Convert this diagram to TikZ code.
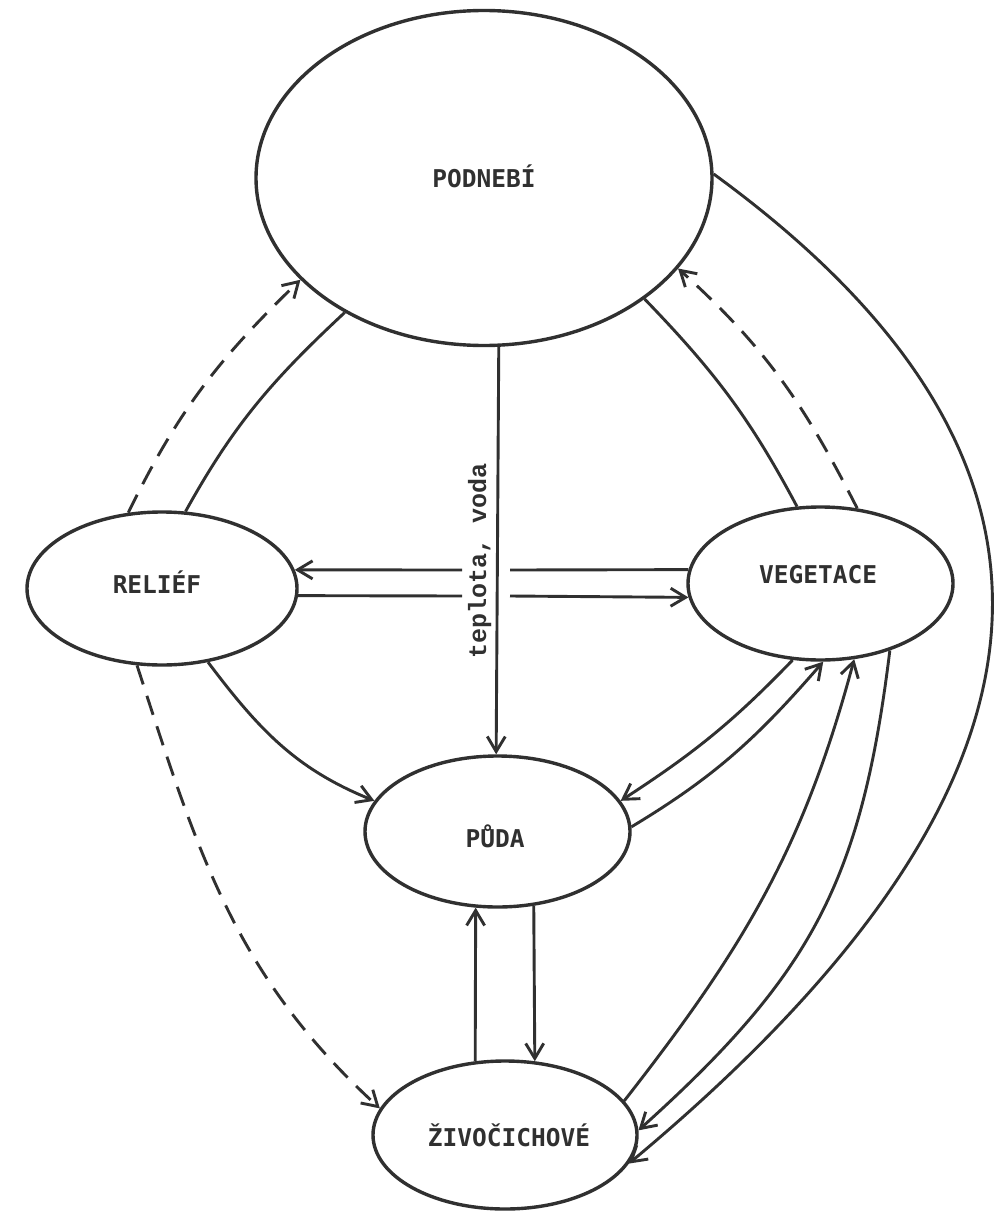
\documentclass[tikz,border=0pt]{standalone}
\usepackage{fontspec}
\newfontfamily\lblfont{DejaVu Sans Mono}
\newfontfamily\tlfont{Liberation Mono}
\usetikzlibrary{shapes.geometric,arrows.meta}
\definecolor{ink}{RGB}{48,48,48}
\tikzset{
  ell/.style={draw=ink, line width=3.4pt, ellipse, inner sep=0pt},
  conn/.style={draw=ink, line width=2.9pt},
  arr/.style={conn, -{Straight Barb[length=15pt,width=18pt]}},
  dsh/.style={dash pattern=on 20pt off 12pt},
  lbl/.style={font=\lblfont\bfseries\fontsize{24.5}{29}\selectfont, text=ink, inner sep=0pt, anchor=base},
  tl/.style={font=\tlfont\bfseries\fontsize{25}{30}\selectfont, text=ink, inner sep=0pt, anchor=base, rotate=90}
}
\begin{document}
\begin{tikzpicture}[x=1pt,y=1pt]
\path[use as bounding box, fill=white] (0,0) rectangle (995,-1212);

% ellipses
\node[ell, minimum width=456pt, minimum height=335pt] (P) at (484,-178) {};
\node[ell, minimum width=270pt, minimum height=153pt] (R) at (162,-588.5) {};
\node[ell, minimum width=265pt, minimum height=153pt] (V) at (820.5,-583.5) {};
\node[ell, minimum width=265pt, minimum height=151pt] (D) at (497.5,-831.5) {};
\node[ell, minimum width=264pt, minimum height=148pt] (Z) at (505,-1135) {};

% labels
\node[lbl] (tP) at (484,-187) {PODNEBÍ};
\node[lbl] (tR) at (157,-593) {RELIÉF};
\node[lbl] (tV) at (818,-583) {VEGETACE};
\node[lbl] (tD) at (495,-847) {PŮDA};
\node[lbl] (tZ) at (509,-1146) {ŽIVOČICHOVÉ};
\node[tl] (tv) at (486,-560.5) {teplota, voda};

% vertical arrow podnebi -> puda
\draw[arr] (P.-85.9) -- (D.91.1);

% horizontal pairs with gap
\coordinate (g1l) at (462,-570);
\coordinate (g1r) at (510,-570);
\coordinate (g2l) at (462,-596);
\coordinate (g2r) at (510,-596);
\draw[conn] (V.174.09) -- (g1r);
\draw[arr] (g1l) -- (R.8.04);
\draw[conn] (R.-3.19) -- (g2l);
\draw[arr] (g2r) -- (V.-174.54);

% relief - podnebi
\draw[conn] (R.73) to[out=61,in=223] (P.-136.7);
\draw[arr,dsh] (R.114.7) to[out=64,in=224] (P.-151.8);

% vegetace - podnebi
\draw[arr,dsh] (V.64.9) to[out=117,in=-42] (P.-25.9);
\draw[conn] (P.-37.5) to[out=-46,in=118] (V.107.3);

% relief -> puda, relief -> zivocichove
\draw[arr] (R.-58) to[out=-53,in=158] (D.166.7);
\draw[arr,dsh] (R.-108.4) to[out=-72,in=137.5] (Z.168);

% vegetace <-> puda
\draw[arr] (V.-110.2) to[out=226,in=33] (D.14.9);
\draw[arr] (D.2.4) to[out=31,in=229] (V.-88.1);

% zivocichove <-> vegetace
\draw[arr] (Z.16) to[out=52,in=255] (V.-66.4);
\draw[arr] (V.-44.9) to[out=263,in=42,looseness=1.1] (Z.2.5);

% podnebi -> zivocichove
\draw[arr] (P.1.5) .. controls (1118.8,-469.1) and (1074.5,-791.9) .. (Z.-13.5);

% puda <-> zivocichove
\draw[arr] (D.-64) -- (Z.68.8);
\draw[arr] (Z.112.6) -- (D.-106.8);
\end{tikzpicture}
\end{document}
